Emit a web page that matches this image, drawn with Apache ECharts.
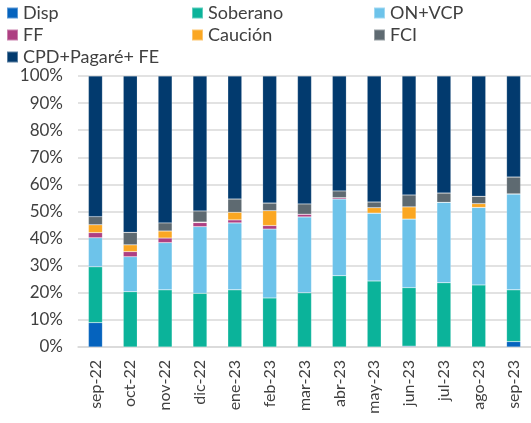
<!DOCTYPE html>
<html>
<head>
<meta charset="utf-8">
<script src="https://cdn.jsdelivr.net/npm/echarts@6/dist/echarts.min.js"></script>
<style>
  html, body { margin: 0; padding: 0; background: #fff; }
  #chart { width: 531px; height: 423px; }
</style>
</head>
<body>
<div id="chart"></div>
<script>
// meses
const months = ["sep-22", "oct-22", "nov-22", "dic-22", "ene-23", "feb-23", "mar-23",
  "abr-23", "may-23", "jun-23", "jul-23", "ago-23", "sep-23"];

// participación (%) por instrumento
const disp     = [9.0, 0, 0, 0, 0, 0, 0, 0, 0, 0.3, 0, 0, 2.0];
const soberano = [20.6, 20.4, 21.1, 19.8, 21.1, 18.1, 20.0, 26.3, 24.4, 21.6, 23.7, 22.9, 19.1];
const onVcp    = [10.7, 12.9, 17.4, 24.6, 24.7, 25.4, 28.0, 28.3, 25.0, 25.3, 29.7, 28.6, 35.4];
const ff       = [1.9, 1.9, 1.7, 1.5, 1.1, 1.3, 1.0, 0.5, 0, 0, 0, 0, 0];
const caucion  = [2.9, 2.5, 2.6, 0.2, 2.8, 5.5, 0, 0, 2.0, 4.5, 0, 1.4, 0];
const fci      = [3.0, 4.6, 3.0, 4.1, 4.9, 2.8, 3.8, 2.5, 2.1, 4.4, 3.4, 2.7, 6.2];
const cpd      = [51.9, 57.7, 54.2, 49.8, 45.4, 46.9, 47.2, 42.4, 46.5, 43.9, 43.2, 44.4, 37.3];

const yTicks = [0, 10, 20, 30, 40, 50, 60, 70, 80, 90, 100];

const seriesDefs = [
  { name: "Disp", data: disp, color: "#0563BE" },
  { name: "Soberano", data: soberano, color: "#0BB39A" },
  { name: "ON+VCP", data: onVcp, color: "#6DC3EA" },
  { name: "FF", data: ff, color: "#AE3F82" },
  { name: "Caución", data: caucion, color: "#FBA722" },
  { name: "FCI", data: fci, color: "#5E6A71" },
  { name: "CPD+Pagaré+ FE", data: cpd, color: "#023A6E" }
];

const chart = echarts.init(document.getElementById("chart"));

const legendBase = {
  orient: "vertical",
  padding: 0,
  itemWidth: 11,
  itemHeight: 11,
  itemGap: 4,
  icon: "rect",
  top: 4,
  textStyle: { fontFamily: "Lato", fontSize: 18, color: "#404040", lineHeight: 18 }
};

chart.setOption({
  animation: false,
  legend: [
    Object.assign({}, legendBase, { left: 6, data: ["Disp", "FF", "CPD+Pagaré+ FE"] }),
    Object.assign({}, legendBase, { left: 191, data: ["Soberano", "Caución"] }),
    Object.assign({}, legendBase, { left: 373, data: ["ON+VCP", "FCI"] })
  ],
  grid: { left: 78, top: 76, width: 455, height: 271 },
  xAxis: {
    type: "category",
    data: months,
    axisTick: { show: false },
    axisLine: { lineStyle: { color: "#d9d9d9", width: 1.5 } },
    axisLabel: {
      rotate: 90,
      margin: 13,
      fontFamily: "Lato",
      fontSize: 16,
      color: "#404040"
    }
  },
  yAxis: {
    type: "value",
    min: 0,
    max: 100,
    interval: 10,
    axisLabel: {
      formatter: (v) => (yTicks.includes(v) ? v + "%" : ""),
      margin: 15,
      fontFamily: "Lato",
      fontSize: 17,
      color: "#404040"
    },
    splitLine: { lineStyle: { color: "#d9d9d9", width: 1.5 } }
  },
  series: seriesDefs.map((s) => ({
    name: s.name,
    type: "bar",
    stack: "total",
    barWidth: 14,
    data: s.data,
    itemStyle: { color: s.color, borderColor: "rgba(255,255,255,0.35)", borderWidth: 0.5 }
  }))
});
</script>
</body>
</html>
